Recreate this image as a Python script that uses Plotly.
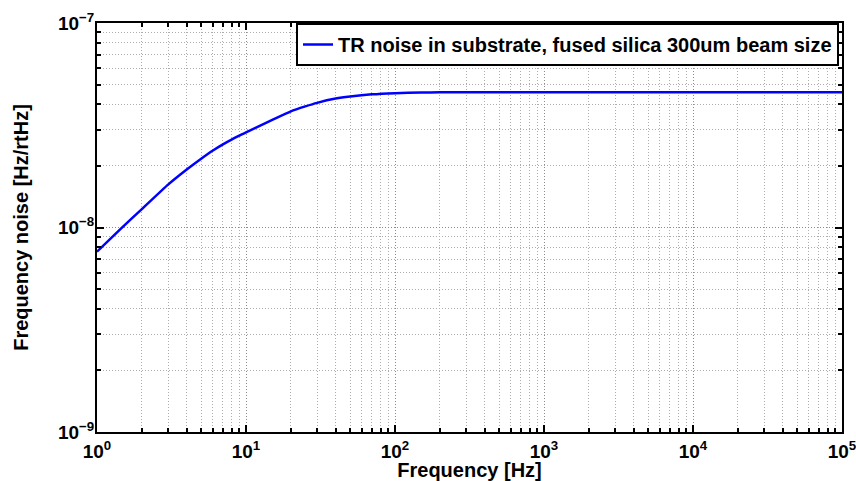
import plotly.graph_objects as go

# Frequency noise spectrum of thermo-refractive noise in the substrate
freq_hz = [1, 1.43, 2, 3, 4, 5, 6, 7, 8, 9, 10, 13.4, 15, 20, 25, 30, 40, 50,
           70, 100, 150, 200, 300, 1000, 1e4, 1e5]
noise = [7.62e-9, 9.8e-9, 1.23e-8, 1.62e-8, 1.92e-8, 2.17e-8, 2.38e-8, 2.55e-8,
         2.69e-8, 2.81e-8, 2.92e-8, 3.23e-8, 3.36e-8, 3.70e-8, 3.91e-8, 4.07e-8,
         4.27e-8, 4.37e-8, 4.48e-8, 4.54e-8, 4.57e-8, 4.58e-8, 4.59e-8, 4.59e-8,
         4.59e-8, 4.59e-8]
series_name = "TR noise in substrate, fused silica 300um beam size"

x_tick_vals = [1, 10, 100, 1e3, 1e4, 1e5]
x_tick_text = ["10<sup>0</sup>", "10<sup>1</sup>", "10<sup>2</sup>",
               "10<sup>3</sup>", "10<sup>4</sup>", "10<sup>5</sup>"]
y_tick_vals = [1e-9, 1e-8, 1e-7]
y_tick_text = ["10<sup>−9</sup>", "10<sup>−8</sup>", "10<sup>−7</sup>"]

FONT = "Liberation Sans, Arial, Helvetica, sans-serif"

fig = go.Figure()
fig.add_trace(go.Scatter(
    x=freq_hz, y=noise, mode="lines", name=series_name,
    line=dict(color="#0000ff", width=2.5, shape="spline", smoothing=0.5),
))

axis_common = dict(
    type="log",
    automargin=False,
    ticklabeloverflow="allow",
    showline=True, linecolor="black", linewidth=2, mirror="allticks",
    ticks="inside", ticklen=7, tickwidth=1.5, tickcolor="black",
    showgrid=True, gridcolor="#8a8a8a", griddash="1px,2px", gridwidth=1,
    zeroline=False,
    tickfont=dict(family=FONT, size=19, color="black", weight="bold"),
    minor=dict(dtick="D1", ticks="inside", ticklen=4, tickcolor="black",
               showgrid=True, gridcolor="#adadad", griddash="1px,2px", gridwidth=1),
)

fig.update_xaxes(
    **axis_common,
    range=[0, 5],
    tickmode="array", tickvals=x_tick_vals, ticktext=x_tick_text,
    ticklabelstandoff=1,
    title=dict(text="Frequency [Hz]", standoff=3,
               font=dict(family=FONT, size=20, color="black", weight="bold")),
)
fig.update_yaxes(
    **axis_common,
    range=[-9, -7],
    tickmode="array", tickvals=y_tick_vals, ticktext=y_tick_text,
    ticklabelstandoff=-3,
    title=dict(text="Frequency noise [Hz/rtHz]", standoff=24,
               font=dict(family=FONT, size=20, color="black", weight="bold")),
)

fig.update_layout(
    width=856, height=481,
    margin=dict(l=97, r=14, t=23, b=49),
    paper_bgcolor="white", plot_bgcolor="white",
    showlegend=True,
    legend=dict(x=0.996, y=1.0, xanchor="right", yanchor="top",
                bgcolor="white", bordercolor="black", borderwidth=2,
                font=dict(family=FONT, size=20, color="black", weight="bold"),
                itemwidth=30, tracegroupgap=0),
)

fig.write_html("out.html")
